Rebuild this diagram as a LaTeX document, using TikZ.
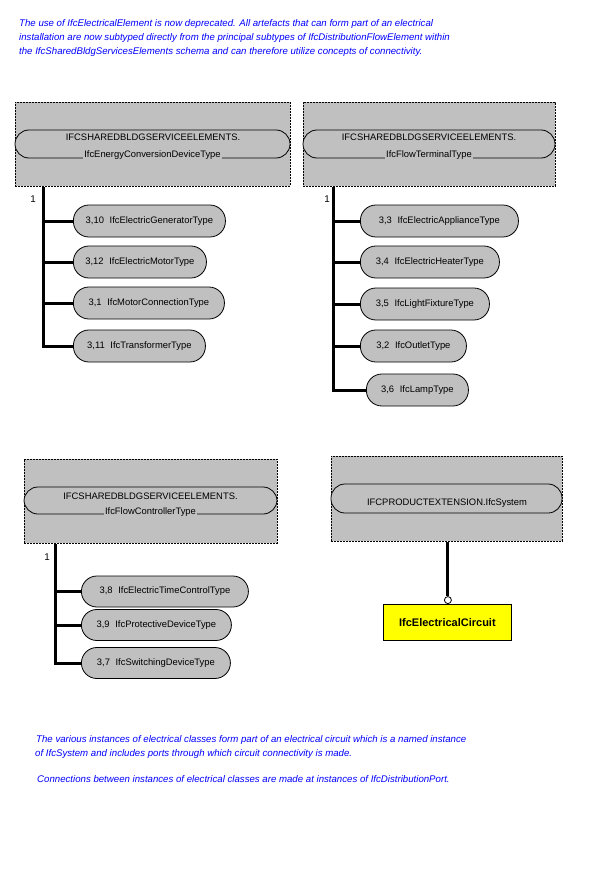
\documentclass[tikz,border=0pt]{standalone}
\usepackage{fontspec}
\setmainfont{Liberation Sans}
\definecolor{boxgray}{RGB}{192,192,192}
\definecolor{noteblue}{RGB}{0,0,255}
\definecolor{entyellow}{RGB}{255,255,0}
\begin{document}
\begin{tikzpicture}[x=1pt,y=-1pt,
  pkg/.style={draw, dash pattern=on 2pt off 1pt, fill=boxgray, line width=0.8pt, anchor=north west, inner sep=0pt},
  hpill/.style={draw, fill=boxgray, line width=0.8pt, rounded corners=14pt, inner sep=0pt},
  htext/.style={font=\fontsize{9.4}{11}\selectfont, inner sep=0pt, anchor=base},
  hline2/.style={htext, fill=boxgray, inner xsep=1.5pt, inner ysep=1pt},
  cpill/.style={draw, fill=boxgray, line width=0.8pt, rounded corners=15.5pt, minimum height=32pt, anchor=west, inner sep=0pt, font=\fontsize{9.4}{11}\selectfont},
  trunk/.style={line width=3pt},
  mult/.style={font=\fontsize{9.8}{11}\selectfont, inner sep=0pt},
  note/.style={font=\fontsize{9.65}{11}\selectfont\itshape, text=noteblue, anchor=base west, inner sep=0pt},
  ent/.style={draw, fill=entyellow, line width=0.8pt, anchor=north west, inner sep=0pt},
  enttext/.style={font=\fontsize{11}{13}\selectfont\bfseries, inner sep=0pt},
  port/.style={circle, draw, fill=white, line width=0.8pt, minimum size=7pt, inner sep=0pt}
]
\useasboundingbox (0,0) rectangle (600,888);
\fill[white] (0,0) rectangle (600,888);

% top note
\node[note] (n1) at (19,27) {The use of IfcElectricalElement is now deprecated. All artefacts that can form part of an electrical};
\node[note] (n2) at (19,41) {installation are now subtyped directly from the principal subtypes of IfcDistributionFlowElement within};
\node[note] (n3) at (19,55) {the IfcSharedBldgServicesElements schema and can therefore utilize concepts of connectivity.};

% box 1
\node[pkg, minimum width=275pt, minimum height=84pt] (b1) at (15,102) {};
\node[hpill, minimum width=275pt, minimum height=28pt] (p1) at (152.5,144) {};
\node[htext] (p1a) at (153,140) {IFCSHAREDBLDGSERVICEELEMENTS.};
\node[hline2] (p1b) at (152.5,157.5) {IfcEnergyConversionDeviceType};
\node[mult] (m1) at (33,199) {1};
\node[cpill, minimum width=152pt] (c11) at (73,221) {3,10\hspace{0.6em}IfcElectricGeneratorType};
\node[cpill, minimum width=133pt] (c12) at (73,262) {3,12\hspace{0.6em}IfcElectricMotorType};
\node[cpill, minimum width=151pt] (c13) at (73,303) {3,1\hspace{0.6em}IfcMotorConnectionType};
\node[cpill, minimum width=132pt] (c14) at (73,346) {3,11\hspace{0.6em}IfcTransformerType};
\draw[trunk] ([xshift=28pt]b1.south west) |- (c14.west);
\foreach \c in {c11,c12,c13}{\draw[trunk] ([xshift=28pt]b1.south west |- \c.west) -- (\c.west);}

% box 2
\node[pkg, minimum width=252pt, minimum height=84pt] (b2) at (303,102) {};
\node[hpill, minimum width=252pt, minimum height=28pt] (p2) at (429,144) {};
\node[htext] (p2a) at (429,140) {IFCSHAREDBLDGSERVICEELEMENTS.};
\node[hline2] (p2b) at (429,157.5) {IfcFlowTerminalType};
\node[mult] (m2) at (327,199) {1};
\node[cpill, minimum width=158pt] (c21) at (360,221) {3,3\hspace{0.6em}IfcElectricApplianceType};
\node[cpill, minimum width=139pt] (c22) at (360,262) {3,4\hspace{0.6em}IfcElectricHeaterType};
\node[cpill, minimum width=129pt] (c23) at (360,304) {3,5\hspace{0.6em}IfcLightFixtureType};
\node[cpill, minimum width=106pt] (c24) at (360,346) {3,2\hspace{0.6em}IfcOutletType};
\node[cpill, minimum width=102pt] (c25) at (366,390) {3,6\hspace{0.6em}IfcLampType};
\draw[trunk] ([xshift=30pt]b2.south west) |- (c25.west);
\foreach \c in {c21,c22,c23,c24}{\draw[trunk] ([xshift=30pt]b2.south west |- \c.west) -- (\c.west);}

% box 3
\node[pkg, minimum width=253pt, minimum height=84pt] (b3) at (24,459) {};
\node[hpill, minimum width=253pt, minimum height=27pt] (p3) at (150.5,500.5) {};
\node[htext] (p3a) at (150.5,499.5) {IFCSHAREDBLDGSERVICEELEMENTS.};
\node[hline2] (p3b) at (150.5,514) {IfcFlowControllerType};
\node[mult] (m3) at (47,557) {1};
\node[cpill, minimum width=167pt, minimum height=31pt] (c31) at (81,591.5) {3,8\hspace{0.6em}IfcElectricTimeControlType};
\node[cpill, minimum width=150pt, minimum height=31pt] (c32) at (81,625) {3,9\hspace{0.6em}IfcProtectiveDeviceType};
\node[cpill, minimum width=149pt, minimum height=31pt] (c33) at (81,663) {3,7\hspace{0.6em}IfcSwitchingDeviceType};
\draw[trunk] ([xshift=31pt]b3.south west) |- (c33.west);
\foreach \c in {c31,c32}{\draw[trunk] ([xshift=31pt]b3.south west |- \c.west) -- (\c.west);}

% box 4
\node[pkg, minimum width=231pt, minimum height=85pt] (b4) at (331,456) {};
\node[hpill, minimum width=231pt, minimum height=29pt] (p4) at (446.5,498.5) {};
\node[htext] (p4a) at (447,505) {IFCPRODUCTEXTENSION.IfcSystem};
\node[ent, minimum width=128pt, minimum height=36pt] (e1) at (383,604) {};
\node[enttext] (e1t) at (e1.center) {IfcElectricalCircuit};
\node[port, anchor=south] (o1) at ([xshift=0.5pt]e1.north) {};
\draw[trunk] (b4.south -| o1.north) -- (o1.north);

% bottom note
\node[note] (n4) at (36,742) {The various instances of electrical classes form part of an electrical circuit which is a named instance};
\node[note] (n5) at (35,756) {of IfcSystem and includes ports through which circuit connectivity is made.};
\node[note] (n6) at (37,782) {Connections between instances of electrical classes are made at instances of IfcDistributionPort.};
\end{tikzpicture}
\end{document}
